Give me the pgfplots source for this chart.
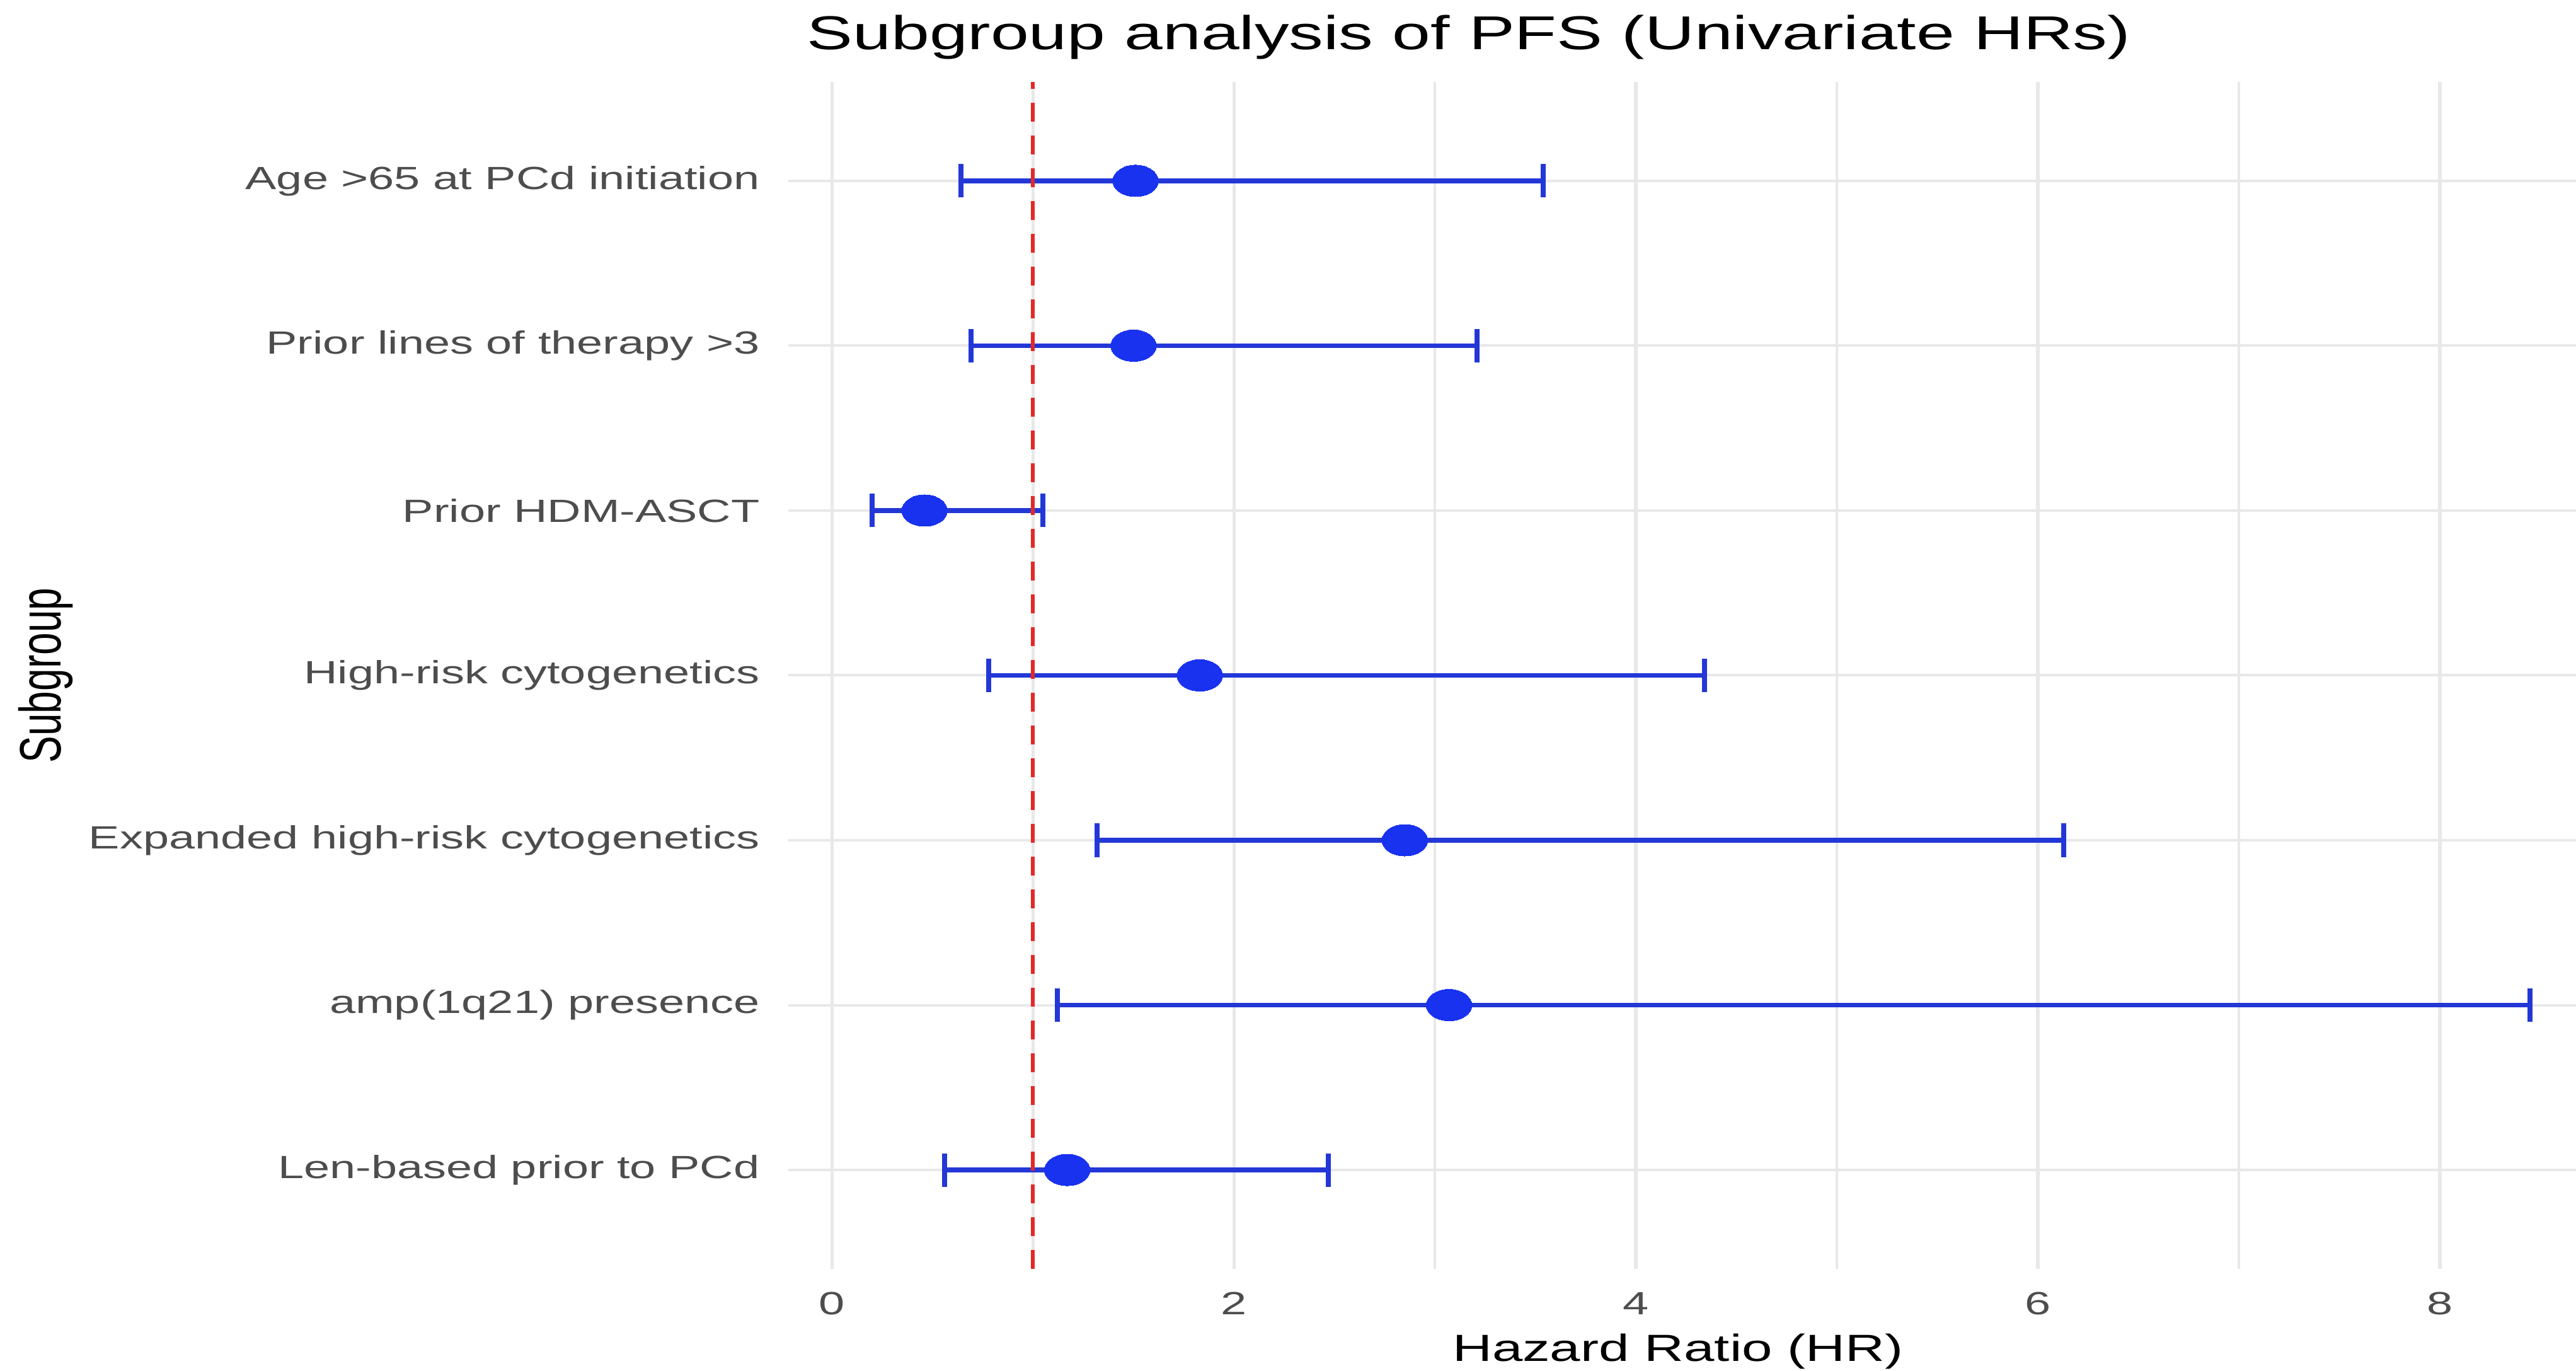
\documentclass[border=0pt]{standalone}
\usepackage{fontspec}
\setmainfont[FakeStretch=1.45]{Liberation Sans}
\newfontfamily\plainsans{Liberation Sans}
\usepackage{graphicx}
\usepackage{pgfplots}
\pgfplotsset{compat=1.18}
\usepackage{pgfplotstable}
\definecolor{ptblue}{RGB}{25,50,240}
\definecolor{barblue}{RGB}{35,55,215}
\definecolor{refred}{RGB}{228,40,40}
\definecolor{gridgray}{RGB}{232,232,232}
\definecolor{tickgray}{RGB}{77,77,77}
\pgfplotstableread{
y hr lo hi
7 1.51 0.64 3.54
6 1.50 0.69 3.21
5 0.46 0.20 1.05
4 1.83 0.78 4.34
3 2.85 1.32 6.13
2 3.07 1.12 8.45
1 1.17 0.56 2.47
}\hrdata
\begin{document}
\begin{tikzpicture}
\path[use as bounding box] (0,0) rectangle (613.2pt,326.25pt);
\node[anchor=base, inner sep=0pt, font=\fontsize{11.3}{13}\selectfont] at (349.65pt,314.5pt) {Subgroup analysis of PFS (Univariate HRs)};
\begin{axis}[
  at={(187.65pt,24.3pt)}, anchor=south west,
  scale only axis, width=425.55pt, height=282.45pt,
  xmin=-0.218, xmax=8.678, ymin=0.4, ymax=7.6,
  xtick={0,2,4,6,8}, minor xtick={1,3,5,7},
  ytick={1,2,3,4,5,6,7},
  yticklabels={Len-based prior to PCd, amp(1q21) presence, Expanded high-risk cytogenetics, High-risk cytogenetics, Prior HDM-ASCT, Prior lines of therapy >3, Age >65 at PCd initiation},
  xmajorgrids, xminorgrids, ymajorgrids,
  major x grid style={gridgray, line width=0.85pt},
  minor x grid style={gridgray, line width=0.65pt},
  major y grid style={gridgray, line width=0.6pt},
  axis line style={draw=none},
  major tick length=0pt, minor tick length=0pt,
  tick style={draw=none},
  /pgf/number format/assume math mode=true,
  yticklabel style={font=\fontsize{7.65}{9}\selectfont, text=tickgray, anchor=east, inner sep=0pt, xshift=-6.6pt},
  xticklabel style={font=\fontsize{7.65}{9}\selectfont, text=tickgray, anchor=north, inner sep=0pt, yshift=-5.4pt},
  xlabel={Hazard Ratio (HR)},
  xlabel style={font=\fontsize{9}{11}\selectfont, at={(rel axis cs:0.4977,0)}, anchor=base, inner sep=0pt, yshift=-22.05pt},
  ylabel={\scalebox{1}[1.45]{Subgroup}},
  ylabel style={font=\plainsans\fontsize{9.6}{11}\selectfont, at={(rel axis cs:-0.41523,0.5)}, anchor=center, inner sep=0pt},
]
\addplot[draw=none, mark=none, forget plot,
  error bars/.cd, x dir=both, x explicit, error mark=|,
  error bar style={draw=barblue, solid, line width=1.15pt},
  error mark options={draw=barblue, solid, line width=1.2pt, mark size=3.98pt}]
  table[x=hr, y=y, x error plus expr=\thisrow{hi}-\thisrow{hr}, x error minus expr=\thisrow{hr}-\thisrow{lo}] {\hrdata};
\addplot[refred, dash pattern=on 4.5pt off 3.3pt, line width=0.9pt, forget plot] coordinates {(1,0.4) (1,7.6)};
\addplot[only marks, mark=*, mark size=3.75pt, mark options={xscale=1.45, fill=ptblue, draw=ptblue, line width=0pt}] table[x=hr, y=y] {\hrdata};
\end{axis}
\end{tikzpicture}
\end{document}
